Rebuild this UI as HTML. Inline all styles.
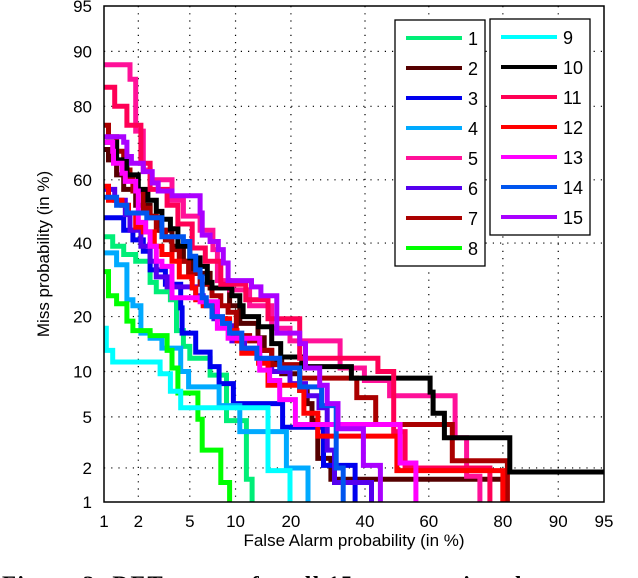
<!DOCTYPE html>
<html><head><meta charset="utf-8"><style>
html,body{margin:0;padding:0;background:#fff;}
body{width:638px;height:578px;overflow:hidden;position:relative;font-family:"Liberation Sans",sans-serif;}
</style></head><body>
<svg id="chart" width="638" height="578" viewBox="0 0 638 578" xmlns="http://www.w3.org/2000/svg" style="position:absolute;left:0;top:0">
<g id="grid"></g>
<g id="curves"></g>
<rect x="104" y="6" width="500" height="496" fill="none" stroke="#000" stroke-width="1.5"/>
<g id="ticks" font-family="Liberation Sans, sans-serif" font-size="17"></g>
<text x="354" y="546" text-anchor="middle" font-family="Liberation Sans, sans-serif" font-size="17">False Alarm probability (in %)</text>
<text transform="translate(49,254) rotate(-90)" text-anchor="middle" font-family="Liberation Sans, sans-serif" font-size="17">Miss probability (in %)</text>
<g id="legend" font-family="Liberation Sans, sans-serif" font-size="18"></g>
<text x="2" y="592" font-family="Liberation Serif, serif" font-weight="bold" font-size="23" letter-spacing="1.5">Figure 3:  DET curves for all 15 events using the</text>
</svg>
<script>
const tickValues = [1,2,5,10,20,40,60,80,90,95];
const seriesNames = ["1","2","3","4","5","6","7","8","9","10","11","12","13","14","15"];
const fa1 = [1,1.2,1.5,1.9,2.5,2.8,3.6,4.0,4.5,5.0,6.9,8.8,11.6,12.5];
const miss1 = [42,39,36.5,34.5,28.5,26,24,17,14,12,9.5,4.7,1.6,1];
const fa2 = [1,1.1,1.3,1.5,1.9,2.5,3.0,3.7,4.5,5.3,6.9,9.2,10.6,13.5,14.6,16,18,22,23.8,25,26.5,30,80];
const miss2 = [69,66,61.5,57,52,48,44,39,34.5,31,27,22.5,18.5,15.6,13.3,11.7,9.7,7.6,6.2,4.7,2.4,1.6,1];
const fa3 = [1,1.5,1.8,2.2,2.5,3.3,4.3,4.4,5.5,6.9,7.9,9.7,18.2,28,37];
const miss3 = [48,44,41,37.5,32,28,22,16.5,13,10.7,8.4,6.2,4.2,2.1,1];
const fa4 = [1,1.3,1.6,1.8,2.1,2.5,3.1,4.3,4.9,7.9,10.6,19,24];
const miss4 = [37,33.5,24,22.5,16.5,15.5,13.7,10,8,6,3.9,2,1];
const fa5 = [1,1.7,1.9,2.2,2.5,3.7,4.5,5.9,7.2,7.7,9.2,12.1,16,19.8,32.6,39.8,47.7,67.8,71,74.5];
const miss5 = [88,85.5,74,63,60,53.6,48.5,44,38,29,26.5,22.5,17.5,15,10.5,8.8,7,3.5,1.7,1];
const fa6 = [1,1.25,1.55,1.7,2.1,2.5,2.8,3.4,5.5,6.2,7.3,8.5,9.5,11.3,13.8,16,19.8,23.4,26.8,29,31,42];
const miss6 = [57,53.6,49,44,39,34.5,30,27.3,25,23,19.5,18,15,13.3,11.7,10,8.4,7,5.8,2.8,1.5,1];
const fa7 = [1,1.1,1.3,1.5,1.7,1.8,2.2,2.5,2.8,3.3,3.7,4.2,4.9,5.9,7.1,8.1,9.0,10.1,12.1,13.8,16,22,37.5,43.3,67,81];
const miss7 = [75.5,72.5,68.5,63,61,56.5,51,48.5,44,41,38,34.5,31,28,25,22.5,21,16,15,13.3,11,9.1,6.8,4.4,2.3,1];
const fa8 = [1,1.1,1.3,1.6,1.8,2.5,3.4,3.7,4.1,5.7,6.1,8.1,9.2];
const miss8 = [31.5,25,23,19,17,16,13.3,10.5,7.3,4.8,2.8,1.5,1];
const fa9 = [1,1.05,1.2,3.0,3.6,4.3,15.3,19.8];
const miss9 = [17.5,13.3,11.4,9.7,7.5,5.8,1.9,1];
const fa10 = [1,1.3,1.6,2.0,2.4,2.8,3.1,3.6,4.1,5.0,5.9,6.6,7.1,9.5,10.6,11.1,13.6,16,17.8,22.5,35.9,60.4,61.3,64.7,81.5,95];
const miss10 = [71,66,61.5,57,53.6,50,47.5,44.5,39,35.5,33,28.5,27,25,22.5,20,17.8,14.5,12.2,10.7,9.1,7.4,5.3,3.5,1.85,1.85];
const fa11 = [1,1.25,1.6,2.1,2.5,3.4,4.1,5.2,6.4,8.1,11.5,15.3,22,44,49,52.6,77];
const miss11 = [84,80,75.5,65,57,52,46,38.5,34.5,28,24,19.5,12,10,3.9,2,1];
const fa12 = [1,1.1,1.45,1.65,1.9,2.2,2.7,3.1,3.7,4.2,5.2,5.5,6.2,7.7,9.2,10.2,10.9,13.6,15.3,22,23,26.5,50,80];
const miss12 = [58,53.6,52,49.5,45,43.5,39,36.5,34.5,30,27,24,22.5,19.5,17,15,12.8,11.2,8.2,7.6,5.3,3.6,1.9,1];
const fa13 = [1,1.2,1.22,1.45,1.55,1.9,2.0,2.3,2.5,2.8,3.1,3.7,5.9,7.7,9.0,13.8,15.6,17.6,21,51,56];
const miss13 = [71,68.5,65,62,59.5,56.5,46.5,43.5,39,34.5,33,24.5,23.5,17.5,15.5,10.2,8.8,6.6,4.4,2.2,1];
const fa14 = [1,1.3,1.6,2.35,3.1,4.5,5.0,5.5,5.9,6.1,6.5,7.1,8.3,9.2,10.9,13.3,17.6,22,27.5,31.5,33.5];
const miss14 = [54.5,52,49.5,48,42,40.5,36,32,30,24.5,22.5,20,18.5,16.5,13.7,12,10.5,8,6,2,1];
const fa15 = [1,1.5,1.6,1.75,2.2,2.6,2.9,3.7,5.9,6.1,6.9,7.8,8.4,9.0,12.4,14,17,22,23.4,27,29,32,39.5,44.8];
const miss15 = [72.5,71,67,65,62.5,59,56.5,55,49.5,42.5,40.5,38,34,29,27.3,25,16.5,14.5,10.5,8.2,6.2,4.1,2.1,1];

const FA = [fa1,fa2,fa3,fa4,fa5,fa6,fa7,fa8,fa9,fa10,fa11,fa12,fa13,fa14,fa15];
const MISS = [miss1,miss2,miss3,miss4,miss5,miss6,miss7,miss8,miss9,miss10,miss11,miss12,miss13,miss14,miss15];
const COLORS = ["#00ee77","#550000","#0000ee","#00aaff","#ff1199","#5500ee","#aa0000","#00ff00","#00ffff","#000000","#ff0055","#ff0000","#ff00ff","#0055ee","#aa00ff"];

function probit(p){
  const a=[-39.69683028665376,220.9460984245205,-275.9285104469687,138.3577518672690,-30.66479806614716,2.506628277459239];
  const b=[-54.47609879822406,161.5858368580409,-155.6989798598866,66.80131188771972,-13.28068155288572];
  const c=[-0.007784894002430293,-0.3223964580411365,-2.400758277161838,-2.549732539343734,4.374664141464968,2.938163982698783];
  const d=[0.007784695709041462,0.3224671290700398,2.445134137142996,3.754408661907416];
  const pl=0.02425;let q,r;
  if(p<pl){q=Math.sqrt(-2*Math.log(p));return (((((c[0]*q+c[1])*q+c[2])*q+c[3])*q+c[4])*q+c[5])/((((d[0]*q+d[1])*q+d[2])*q+d[3])*q+1);}
  if(p<=1-pl){q=p-0.5;r=q*q;return (((((a[0]*r+a[1])*r+a[2])*r+a[3])*r+a[4])*r+a[5])*q/(((((b[0]*r+b[1])*r+b[2])*r+b[3])*r+b[4])*r+1);}
  q=Math.sqrt(-2*Math.log(1-p));return -(((((c[0]*q+c[1])*q+c[2])*q+c[3])*q+c[4])*q+c[5])/((((d[0]*q+d[1])*q+d[2])*q+d[3])*q+1);
}
const L=104,R=604,T=6,B=502;
const zMin=probit(0.01), zMax=probit(0.95);
function xScale(v){return L+(probit(v/100)-zMin)/(zMax-zMin)*(R-L);}
function yScale(v){return B-(probit(v/100)-zMin)/(zMax-zMin)*(B-T);}
const NS="http://www.w3.org/2000/svg";
function mk(tag,attrs){const e=document.createElementNS(NS,tag);for(const k in attrs)e.setAttribute(k,attrs[k]);return e;}

const grid=document.getElementById('grid'), ticks=document.getElementById('ticks');
tickValues.forEach(function(v){
  const x=xScale(v), y=yScale(v);
  if(v!==1&&v!==95){
    const gx=mk('line',{x1:x,y1:T,x2:x,y2:B,stroke:'#000','stroke-width':1.2,'stroke-dasharray':'1.2 6'});
    
    
    grid.appendChild(gx);
    const gy=mk('line',{x1:L,y1:y,x2:R,y2:y,stroke:'#000','stroke-width':1.2,'stroke-dasharray':'1.2 6'});
    
    
    grid.appendChild(gy);
  }
  const tx=mk('text',{x:x,y:527,'text-anchor':'middle'});tx.textContent=v;
  
  
  ticks.appendChild(tx);
  const ty=mk('text',{x:92,y:y+6,'text-anchor':'end'});ty.textContent=v;
  
  
  ticks.appendChild(ty);
});

const curves=document.getElementById('curves');
FA.forEach(function(fa,i){
  const ms=MISS[i];
  let d='M'+xScale(fa[0]).toFixed(1)+' '+yScale(ms[0]).toFixed(1);
  for(let k=1;k<fa.length;k++){d+=' H'+xScale(fa[k]).toFixed(1)+' V'+yScale(ms[k]).toFixed(1);}
  const p=mk('path',{d:d,fill:'none',stroke:COLORS[i],'stroke-width':5,'stroke-linejoin':'miter'});
  
  
  curves.appendChild(p);
});

const legend=document.getElementById('legend');
const box1=mk('rect',{x:395,y:20,width:90,height:246,fill:'#fff',stroke:'#000','stroke-width':1.3});


legend.appendChild(box1);
const box2=mk('rect',{x:490,y:19,width:100,height:216,fill:'#fff',stroke:'#000','stroke-width':1.3});


legend.appendChild(box2);
seriesNames.forEach(function(n,i){
  const col=i<8?0:1, row=i<8?i:i-8;
  const y=(col===0?38:37)+row*30;
  const x0=col===0?406:501;
  const ln=mk('line',{x1:x0,y1:y,x2:x0+56,y2:y,stroke:COLORS[i],'stroke-width':4});
  
  
  legend.appendChild(ln);
  const t=mk('text',{x:x0+62,y:y+7});t.textContent=n;
  
  
  legend.appendChild(t);
});
</script>
</body></html>
